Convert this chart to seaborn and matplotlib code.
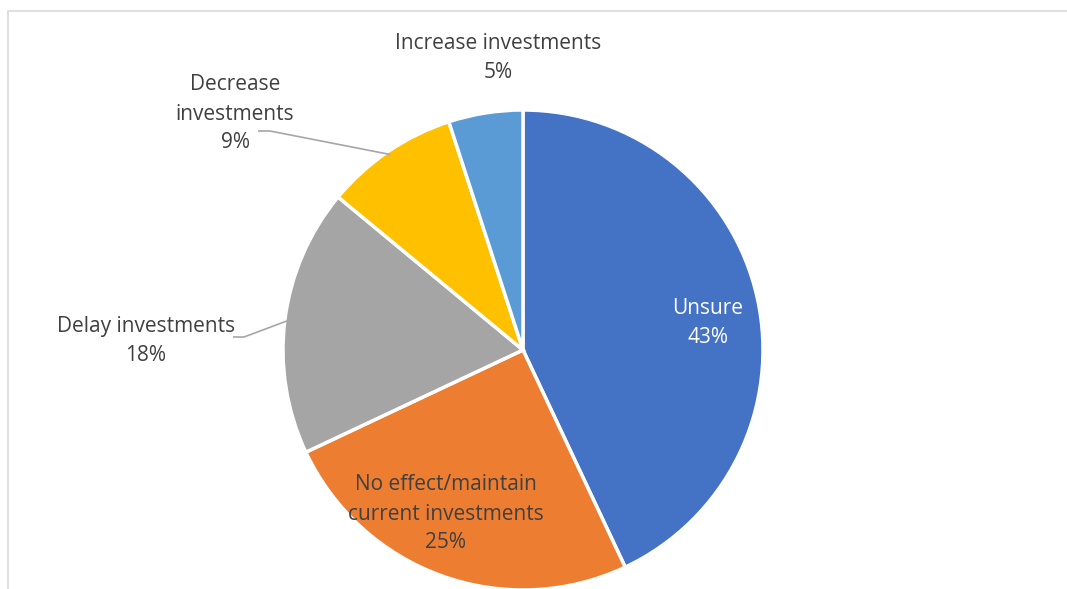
import matplotlib
matplotlib.use("Agg")
import matplotlib.pyplot as plt
import numpy as np
import seaborn as sns
from matplotlib.lines import Line2D

# Survey answers, clockwise from 12 o'clock
categories = ["Unsure", "No effect/maintain\ncurrent investments", "Delay investments",
              "Decrease\ninvestments", "Increase investments"]
shares = [43, 25, 18, 9, 5]
colors = ["#4472C4", "#ED7D31", "#A5A5A5", "#FFC000", "#5B9BD5"]

sns.set_theme(style="white")
plt.rcParams["font.family"] = ["Open Sans", "DejaVu Sans"]

W, H = 1067, 589
fig = plt.figure(figsize=(W / 100, H / 100), dpi=100)
ax = fig.add_axes([0, 0, 1, 1])

# pie centre and radius in pixels
cx, cy, R = 523, 350, 240

wedges, _ = ax.pie(shares, colors=colors, startangle=90, counterclock=False,
                   radius=1.0, center=(0, 0), frame=True,
                   wedgeprops=dict(edgecolor="white", linewidth=2.5))
ax.set_xlim(-cx / R, (W - cx) / R)
ax.set_ylim(-(H - cy) / R, cy / R)
ax.set_aspect("equal")
ax.axis("off")


def px(x, y):
    return (x - cx) / R, (cy - y) / R


# label anchors (pixel coordinates of text centre) and text colours
label_pos = [(708, 323), (446, 514), (146, 341), (235, 114), (498, 58)]
label_col = ["white", "#404040", "#404040", "#404040", "#404040"]
# leader line elbows for outside labels: index -> (start, elbow)
leaders = {2: ((233, 337), (244, 337)), 3: ((258, 131), (270, 131))}

for i, (cat, val) in enumerate(zip(categories, shares)):
    x, y = px(*label_pos[i])
    ax.text(x, y, f"{cat}\n{val}%", ha="center", va="center", fontsize=15,
            color=label_col[i], linespacing=1.5)
    if i in leaders:
        w = wedges[i]
        mid = np.deg2rad((w.theta1 + w.theta2) / 2)
        end = (0.985 * np.cos(mid), 0.985 * np.sin(mid))
        (sx, sy), (ex, ey) = leaders[i]
        p0, p1 = px(sx, sy), px(ex, ey)
        ax.plot([p0[0], p1[0], end[0]], [p0[1], p1[1], end[1]],
                color="#A6A6A6", lw=1.2, solid_capstyle="butt")

# chart-area border (top and left edges visible)
fig.add_artist(Line2D([7.5 / W, 1], [1 - 10.5 / H, 1 - 10.5 / H],
                      transform=fig.transFigure, color="#D9D9D9", lw=1.2))
fig.add_artist(Line2D([7.5 / W, 7.5 / W], [0, 1 - 10.5 / H],
                      transform=fig.transFigure, color="#D9D9D9", lw=1.2))

fig.savefig("out.png", dpi=100, facecolor="white")
